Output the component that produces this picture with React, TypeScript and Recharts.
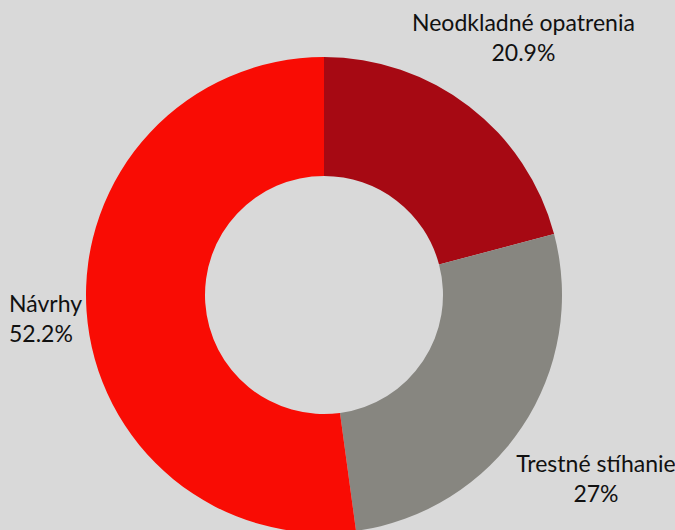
import React from "react";
import { PieChart, Pie, Cell } from "recharts";

const categories = ["Neodkladné opatrenia", "Trestné stíhanie", "Návrhy"];
const values = [20.9, 27, 52.2];
const colors = ["#a60913", "#878680", "#f90c04"];

const data = categories.map((name, i) => ({ name, value: values[i] }));

const RAD = Math.PI / 180;
const FONT = 23;

const renderLabel = (props: any) => {
  const { cx, cy, midAngle, index } = props;
  const r = 327;
  const x = cx + r * Math.cos(-midAngle * RAD);
  const y = cy + r * Math.sin(-midAngle * RAD);
  const name = categories[index];
  const pct = `${values[index]}%`;
  const hw = Math.max(name.length, pct.length) * FONT * 0.27;
  let anchor: "middle" | "start" = "middle";
  let tx = x;
  if (x - hw < 8) {
    anchor = "start";
    tx = 9;
  }
  return (
    <text
      x={tx}
      y={y}
      textAnchor={anchor}
      fill="#111111"
      fontFamily="Lato, 'Noto Sans', sans-serif"
      fontWeight={400}
      fontSize={FONT}
    >
      <tspan x={tx} y={y - 5}>{name}</tspan>
      <tspan x={tx} y={y + 25}>{pct}</tspan>
    </text>
  );
};

export default function App() {
  return (
    <div
      style={{
        position: "absolute",
        left: 0,
        top: 0,
        width: 675,
        height: 530,
        background: "#d9d9d9",
        overflow: "hidden",
      }}
    >
      <PieChart
        width={675}
        height={530}
        margin={{ top: 0, right: 0, bottom: 0, left: 0 }}
        style={{ overflow: "visible" }}
      >
        <Pie
          data={data}
          dataKey="value"
          nameKey="name"
          cx={324}
          cy={295}
          innerRadius={119}
          outerRadius={238}
          startAngle={90}
          endAngle={-270}
          stroke="none"
          label={renderLabel}
          labelLine={false}
          isAnimationActive={false}
        >
          {data.map((d, i) => (
            <Cell key={d.name} fill={colors[i]} />
          ))}
        </Pie>
      </PieChart>
    </div>
  );
}
